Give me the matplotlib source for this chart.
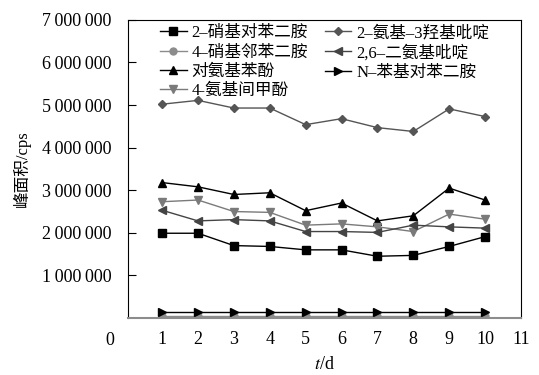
import matplotlib
matplotlib.use('Agg')
import matplotlib.pyplot as plt
from matplotlib.ticker import FuncFormatter

plt.rcParams['font.family'] = ['Liberation Serif', 'Noto Sans CJK SC']
plt.rcParams['mathtext.fontset'] = 'stix'

# 数据
days = [1, 2, 3, 4, 5, 6, 7, 8, 9, 10]
nitro_p = [1.99e6, 1.99e6, 1.70e6, 1.68e6, 1.60e6, 1.60e6, 1.45e6, 1.47e6, 1.68e6, 1.91e6]
nitro_o = [0.05e6] * 10
aminophenol = [3.18e6, 3.08e6, 2.90e6, 2.94e6, 2.52e6, 2.70e6, 2.28e6, 2.40e6, 3.05e6, 2.77e6]
amino_cresol = [2.73e6, 2.77e6, 2.50e6, 2.48e6, 2.18e6, 2.21e6, 2.14e6, 2.03e6, 2.44e6, 2.32e6]
amino_hydroxy_py = [5.02e6, 5.11e6, 4.93e6, 4.93e6, 4.54e6, 4.68e6, 4.47e6, 4.38e6, 4.91e6, 4.73e6]
diamino_py = [2.53e6, 2.28e6, 2.31e6, 2.28e6, 2.03e6, 2.03e6, 2.01e6, 2.18e6, 2.14e6, 2.11e6]
phenyl_pd = [0.13e6] * 10

labels = ['2–硝基对苯二胺', '4–硝基邻苯二胺', '对氨基苯酚', '4-氨基间甲酚',
          '2–氨基–3羟基吡啶', '2,6–二氨基吡啶', 'N–苯基对苯二胺']

fig = plt.figure(figsize=(5.39, 3.75), dpi=100)
ax = fig.add_axes([0.2375, 0.152, 0.729, 0.795])

ax.plot(days, nitro_p, marker='s', color='black', ms=6, lw=1, label=labels[0])
ax.plot(days, nitro_o, marker='o', color='#8c8c8c', ms=5, lw=1, label=labels[1])
ax.plot(days, aminophenol, marker='^', color='black', ms=6, lw=1, label=labels[2])
ax.plot(days, amino_cresol, marker='v', color='#7a7a7a', ms=6, lw=1, label=labels[3])
ax.plot(days, amino_hydroxy_py, marker='D', color='#555555', ms=4, lw=1, label=labels[4])
ax.plot(days, diamino_py, marker='<', color='#444444', ms=6, lw=1, label=labels[5])
ax.plot(days, phenyl_pd, marker='>', color='black', ms=6, lw=1, label=labels[6])

ax.set_xlim(0.05, 11)
ax.set_ylim(0, 7e6)
ax.set_xticks(range(1, 12))
ax.set_yticks([1e6, 2e6, 3e6, 4e6, 5e6, 6e6, 7e6])
ax.yaxis.set_major_formatter(FuncFormatter(lambda v, p: f'{int(v):,}'.replace(',', '\u2009')))
ax.tick_params(axis='y', direction='in', length=6, labelsize=13, pad=12)
ax.tick_params(axis='x', length=0, labelsize=13, pad=9)
ax.text(-0.035, -0.075, '0', transform=ax.transAxes, ha='right', va='center', fontsize=13)

ax.spines['bottom'].set_color('#8c8c8c')
ax.spines['bottom'].set_linewidth(1.5)

ax.set_ylabel('峰面积/cps', fontsize=12, labelpad=8)
ax.set_xlabel('$t$/d', fontsize=13, labelpad=6)

ax.legend(ncol=2, loc='upper left', bbox_to_anchor=(0.06, 1.01), frameon=False,
          fontsize=12, handlelength=1.6, handletextpad=0.3, columnspacing=1.0,
          labelspacing=0.2, borderaxespad=0.1)

plt.savefig('out.png', dpi=100)
